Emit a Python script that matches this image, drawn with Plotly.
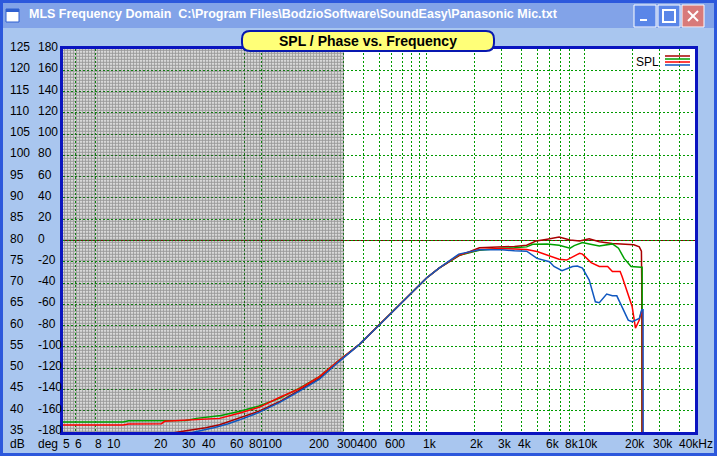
import math
import plotly.graph_objects as go

# ---------------- data ----------------
X_RANGE_HZ = [5, 50000]
Y_RANGE_DB = [35, 125]

DB_TICKS = [125, 120, 115, 110, 105, 100, 95, 90, 85, 80, 75, 70, 65, 60, 55, 50, 45, 40, 35]
DEG_TICKS = [180, 160, 140, 120, 100, 80, 60, 40, 20, 0, -20, -40, -60, -80, -100, -120, -140, -160, -180]

X_LABEL_VALUES = [5, 6, 8, 10, 20, 30, 40, 60, 80, 100, 200, 300, 400, 600, 1000,
                  2000, 3000, 4000, 6000, 8000, 10000, 20000, 30000, 40000]
X_LABEL_TEXT = ["5", "6", "8", "10", "20", "30", "40", "60", "80", "100", "200", "300", "400", "600", "1k",
                "2k", "3k", "4k", "6k", "8k", "10k", "20k", "30k", "40kHz"]

GRID_FREQS = [6, 8, 70, 90, 300, 400, 500, 600, 700, 800, 900, 1000, 2000, 3000, 4000,
              5000, 6000, 7000, 8000, 10000, 20000, 30000, 40000]
DENSE_FREQ_RANGE = [5, 300]
REF_LEVEL_DB = 80

FREQ_DARKRED = [5, 25, 30, 40, 49, 65, 87, 117, 157, 210, 272, 376, 500, 671, 850, 1000, 1200, 1600,
                2160, 2600, 3000, 3600, 4300, 4950, 5800, 6900, 8100, 9300, 10700, 12400, 15000,
                18000, 20500, 22200, 22900, 23000, 23100]
SPL_DARKRED = [33.0, 34.8, 35.3, 36.0, 36.7, 38.2, 39.9, 42.1, 44.9, 47.6, 51.3, 55.6, 60.1, 64.8, 68.5,
               71.2, 73.5, 76.4, 78.3, 78.4, 78.4, 78.6, 78.9, 79.9, 80.3, 80.8, 80.1, 79.9, 80.4, 79.7,
               79.3, 79.2, 79.0, 78.5, 77.5, 70.7, 20.0]

FREQ_GREEN = [5, 12, 13, 30, 35, 50, 65, 87, 117, 157, 210, 272, 376, 500, 671, 850, 1000, 1200, 1600,
              2160, 2600, 3000, 3600, 4300, 4700, 5800, 6900, 8100, 8600, 9700, 10700, 12400, 15000,
              16400, 17800, 19700, 22800, 23150, 23200]
SPL_GREEN = [37.35, 37.35, 37.65, 37.7, 38.2, 38.9, 39.8, 41.1, 42.9, 45.3, 48.0, 51.5, 55.6, 60.1, 64.8,
             68.5, 71.2, 73.5, 76.5, 77.7, 78.0, 78.2, 78.3, 78.5, 79.1, 79.2, 78.9, 78.2, 78.8, 79.5,
             79.2, 78.7, 79.2, 78.2, 75.8, 73.9, 73.7, 73.7, 20.0]

FREQ_RED = [5, 12, 13, 21, 22, 40, 49, 65, 87, 117, 157, 210, 272, 376, 500, 671, 850, 1000, 1200, 1600,
            2160, 2600, 3000, 3600, 4300, 5000, 6000, 6900, 7700, 8400, 9300, 9700, 11000, 12400, 14000,
            15000, 16800, 17300, 18500, 20000, 21000, 22200, 22900, 23200, 23250]
SPL_RED = [36.65, 36.65, 36.9, 36.95, 37.5, 37.9, 38.2, 39.4, 40.8, 43.1, 45.2, 48.0, 51.5, 55.6, 60.1,
           64.8, 68.5, 71.2, 73.5, 76.6, 77.9, 78.1, 78.1, 78.0, 77.9, 77.4, 76.4, 75.6, 75.4, 76.1,
           77.0, 76.8, 74.8, 73.9, 73.9, 72.7, 72.7, 71.5, 68.4, 64.5, 59.4, 61.3, 63.3, 63.5, 20.0]

FREQ_BLUE = [5, 30, 34, 40, 45, 55, 65, 87, 117, 157, 210, 272, 376, 500, 671, 850, 1000, 1200, 1600,
             2160, 2600, 3000, 3600, 4300, 5000, 6000, 6400, 7200, 8400, 9000, 9700, 10700, 11700,
             12400, 13800, 15000, 16000, 17300, 18900, 20000, 22200, 23000, 23450, 23500]
SPL_BLUE = [33.0, 34.5, 35.0, 35.5, 36.0, 36.9, 37.8, 39.6, 41.9, 44.6, 47.4, 51.2, 55.6, 60.1, 64.8,
            68.5, 71.2, 73.5, 76.8, 77.8, 77.8, 77.8, 77.6, 77.5, 75.8, 75.0, 73.9, 72.9, 73.9, 74.0,
            73.5, 70.7, 65.6, 65.4, 67.4, 67.0, 67.0, 64.5, 61.3, 60.9, 61.7, 63.7, 63.7, 20.0]

SERIES = [
    ("SPL 1", FREQ_DARKRED, SPL_DARKRED, "#a80000"),
    ("SPL 2", FREQ_GREEN, SPL_GREEN, "#00a000"),
    ("SPL 3", FREQ_RED, SPL_RED, "#ff0000"),
    ("SPL 4", FREQ_BLUE, SPL_BLUE, "#1058c0"),
]

TITLE_TEXT = "SPL / Phase vs. Frequency"
WINDOW_TITLE = "MLS Frequency Domain  C:\\Program Files\\BodzioSoftware\\SoundEasy\\Panasonic Mic.txt"

# ---------------- geometry (pixels) ----------------
W, H = 717, 456
PL, PR, PT, PB = 63, 695, 49, 432


def px(x):
    return (x - PL) / (PR - PL)


def py(y):
    return (PB - y) / (PB - PT)


FONT = "Liberation Sans, Arial, sans-serif"
GRID_GREEN = "#009a00"

fig = go.Figure()

# dense grid region (drawn as a dotted pattern fill)
fig.add_trace(go.Scatter(
    x=[DENSE_FREQ_RANGE[0], DENSE_FREQ_RANGE[1], DENSE_FREQ_RANGE[1], DENSE_FREQ_RANGE[0], DENSE_FREQ_RANGE[0]],
    y=[Y_RANGE_DB[0], Y_RANGE_DB[0], Y_RANGE_DB[1], Y_RANGE_DB[1], Y_RANGE_DB[0]],
    mode="none", fill="toself", fillcolor="rgba(255,255,255,0)",
    fillpattern=dict(shape=".", fgcolor="#383838", size=3, solidity=0.7, fillmode="overlay"),
    hoverinfo="skip", showlegend=False,
))

for name, f, s, c in SERIES:
    fig.add_trace(go.Scatter(x=f, y=s, mode="lines", name=name,
                             line=dict(color=c, width=1.5), showlegend=False, hoverinfo="skip"))

shapes = []
# reference 0 deg / 80 dB line
shapes.append(dict(type="line", xref="paper", yref="y", x0=0, x1=1, y0=REF_LEVEL_DB, y1=REF_LEVEL_DB,
                   line=dict(color="#800000", width=1), layer="below"))

# window frame / title bar
shapes.append(dict(type="rect", xref="paper", yref="paper", x0=px(0), x1=px(W), y0=py(28), y1=py(0),
                   fillcolor="#82a3e8", line=dict(width=0), layer="below"))
shapes.append(dict(type="rect", xref="paper", yref="paper", x0=px(1.5), x1=px(W - 1.5), y0=py(H - 1.5), y1=py(1.5),
                   fillcolor="rgba(0,0,0,0)", line=dict(color="#2c58dc", width=3), layer="below"))
# window icon
shapes.append(dict(type="rect", xref="paper", yref="paper", x0=px(6), x1=px(19), y0=py(22), y1=py(9),
                   fillcolor="white", line=dict(color="#3060d0", width=1)))
shapes.append(dict(type="rect", xref="paper", yref="paper", x0=px(6), x1=px(19), y0=py(12), y1=py(9),
                   fillcolor="#3060d0", line=dict(width=0)))
# buttons
for bx, col in [(634, "#5a86e8"), (658, "#5a86e8"), (682, "#d87a7a")]:
    shapes.append(dict(type="rect", xref="paper", yref="paper", x0=px(bx), x1=px(bx + 22), y0=py(27), y1=py(5),
                       fillcolor=col, line=dict(color="white", width=1)))
shapes.append(dict(type="rect", xref="paper", yref="paper", x0=px(640), x1=px(647), y0=py(21), y1=py(19),
                   fillcolor="white", line=dict(width=0)))
shapes.append(dict(type="rect", xref="paper", yref="paper", x0=px(663), x1=px(675), y0=py(22), y1=py(10),
                   fillcolor="rgba(0,0,0,0)", line=dict(color="white", width=2)))
shapes.append(dict(type="line", xref="paper", yref="paper", x0=px(688), x1=px(698), y0=py(21), y1=py(11),
                   line=dict(color="white", width=2)))
shapes.append(dict(type="line", xref="paper", yref="paper", x0=px(688), x1=px(698), y0=py(11), y1=py(21),
                   line=dict(color="white", width=2)))

# title box (rounded)
bx0, bx1, by0, by1, r = 242, 494, 31, 51, 8
path = (f"M {px(bx0 + r)} {py(by0)} L {px(bx1 - r)} {py(by0)} Q {px(bx1)} {py(by0)} {px(bx1)} {py(by0 + r)} "
        f"L {px(bx1)} {py(by1 - r)} Q {px(bx1)} {py(by1)} {px(bx1 - r)} {py(by1)} "
        f"L {px(bx0 + r)} {py(by1)} Q {px(bx0)} {py(by1)} {px(bx0)} {py(by1 - r)} "
        f"L {px(bx0)} {py(by0 + r)} Q {px(bx0)} {py(by0)} {px(bx0 + r)} {py(by0)} Z")
shapes.append(dict(type="path", xref="paper", yref="paper", path=path,
                   fillcolor="#ffff78", line=dict(color="#0818b0", width=2)))

# legend swatches
for i, (_, _, _, c) in enumerate(SERIES):
    yy = 56 + i * 3
    shapes.append(dict(type="line", xref="paper", yref="paper", x0=px(665), x1=px(690), y0=py(yy), y1=py(yy),
                       line=dict(color=c, width=1.5)))

annotations = []
annotations.append(dict(xref="paper", yref="paper", x=px(27), y=py(14), text=WINDOW_TITLE, showarrow=False,
                        xanchor="left", yanchor="middle",
                        font=dict(family=FONT, size=12.5, color="white", weight="bold")))
annotations.append(dict(xref="paper", yref="paper", x=px(368), y=py(41), text=TITLE_TEXT, showarrow=False,
                        xanchor="center", yanchor="middle",
                        font=dict(family=FONT, size=14, color="black", weight="bold")))
annotations.append(dict(xref="paper", yref="paper", x=px(661), y=py(62), text="SPL", showarrow=False,
                        xanchor="right", yanchor="middle", font=dict(family=FONT, size=12, color="black")))

for db, deg in zip(DB_TICKS, DEG_TICKS):
    annotations.append(dict(xref="paper", yref="y", x=px(8), y=db, text=str(db), showarrow=False,
                            xanchor="left", yanchor="middle", yshift=2,
                            font=dict(family=FONT, size=12, color="black")))
    annotations.append(dict(xref="paper", yref="y", x=px(36), y=deg * 0.25 + 80, text=str(deg), showarrow=False,
                            xanchor="left", yanchor="middle", yshift=2,
                            font=dict(family=FONT, size=12, color="black")))

annotations.append(dict(xref="paper", yref="paper", x=px(8), y=py(444), text="dB", showarrow=False,
                        xanchor="left", yanchor="middle", font=dict(family=FONT, size=12, color="black")))
annotations.append(dict(xref="paper", yref="paper", x=px(36), y=py(444), text="deg", showarrow=False,
                        xanchor="left", yanchor="middle", font=dict(family=FONT, size=12, color="black")))
for i, (v, t) in enumerate(zip(X_LABEL_VALUES, X_LABEL_TEXT)):
    last = i == len(X_LABEL_VALUES) - 1
    annotations.append(dict(xref="x", yref="paper", x=math.log10(v), y=py(444), text=t, showarrow=False,
                            xanchor="left" if last else "center", xshift=-3 if last else 3, yanchor="middle",
                            font=dict(family=FONT, size=12, color="black")))

fig.update_layout(
    width=W, height=H,
    margin=dict(l=PL, r=W - PR, t=PT, b=H - PB, pad=0),
    paper_bgcolor="#a9c6ef", plot_bgcolor="white",
    shapes=shapes, annotations=annotations, hovermode=False,
    xaxis=dict(type="log", range=[math.log10(X_RANGE_HZ[0]), math.log10(X_RANGE_HZ[1])],
               tickvals=GRID_FREQS, showticklabels=False, ticks="",
               showgrid=True, gridcolor=GRID_GREEN, gridwidth=1, griddash="2px,2px",
               showline=True, mirror=True, linecolor="#0a14c0", linewidth=3, zeroline=False),
    yaxis=dict(range=Y_RANGE_DB, tickvals=DB_TICKS, showticklabels=False, ticks="",
               showgrid=True, gridcolor=GRID_GREEN, gridwidth=1, griddash="2px,2px",
               showline=True, mirror=True, linecolor="#0a14c0", linewidth=3, zeroline=False),
)

fig.write_html("out.html", config={"displayModeBar": False},
               post_script="document.body.style.margin='0';document.body.style.overflow='hidden';")
